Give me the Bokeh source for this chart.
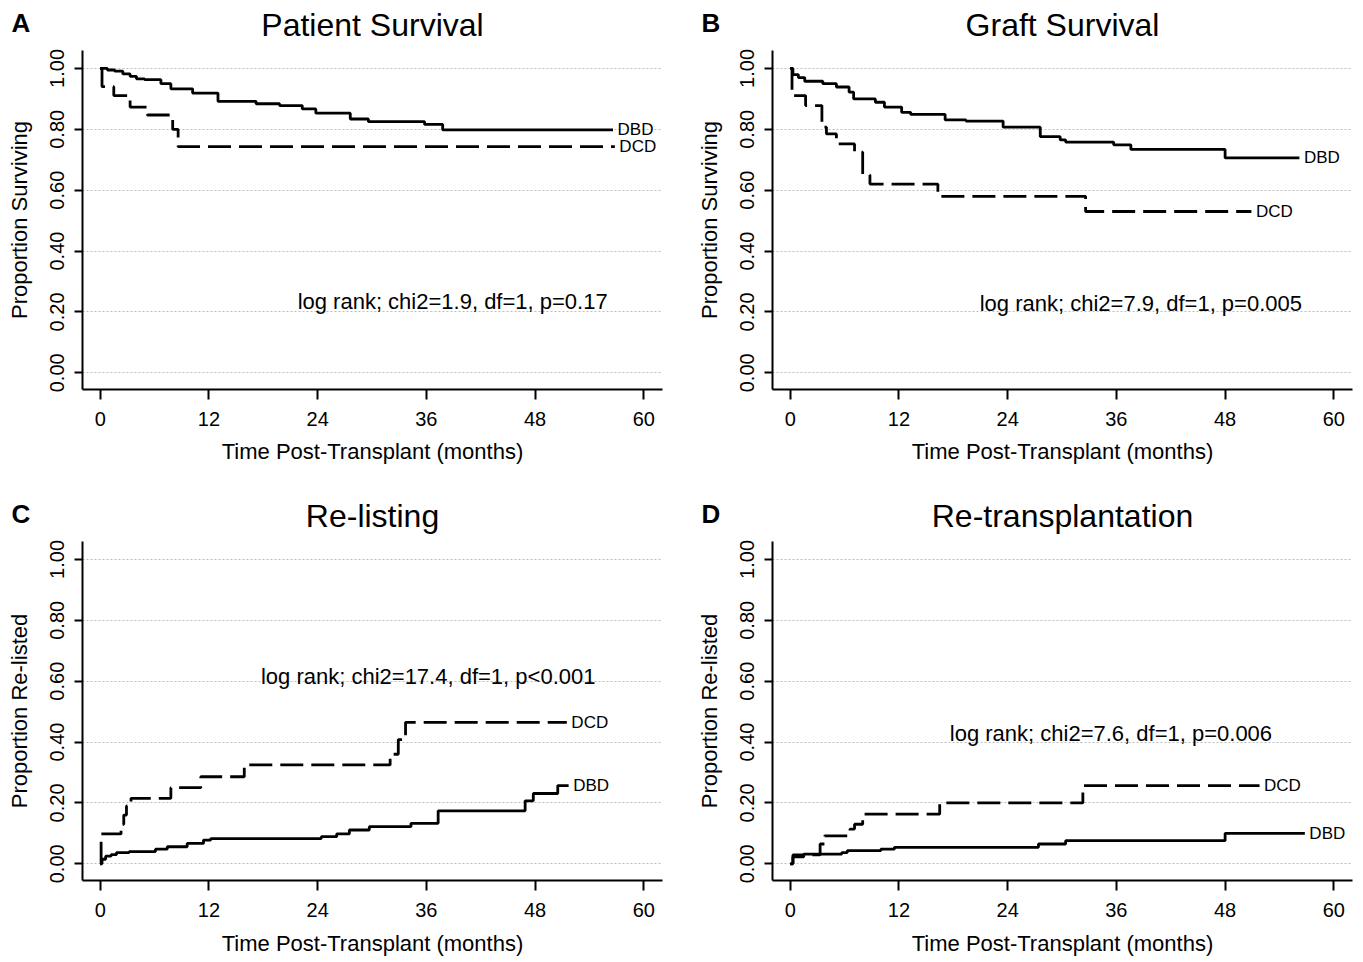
from bokeh.plotting import figure
from bokeh.layouts import gridplot
from bokeh.models import Label, FixedTicker, Range1d
from bokeh.embed import file_html
from bokeh.resources import INLINE

# ---------------- data ----------------
month_ticks = [0, 12, 24, 36, 48, 60]
prop_ticks = [0.0, 0.2, 0.4, 0.6, 0.8, 1.0]
prop_tick_labels = ["0.00", "0.20", "0.40", "0.60", "0.80", "1.00"]

panel_letters = ["A", "B", "C", "D"]
panel_titles = ["Patient Survival", "Graft Survival", "Re-listing", "Re-transplantation"]
y_titles = ["Proportion Surviving", "Proportion Surviving", "Proportion Re-listed", "Proportion Re-listed"]
x_title = "Time Post-Transplant (months)"
group_names = ["DBD", "DCD"]

stats_text = ["log rank; chi2=1.9, df=1, p=0.17",
              "log rank; chi2=7.9, df=1, p=0.005",
              "log rank; chi2=17.4, df=1, p<0.001",
              "log rank; chi2=7.6, df=1, p=0.006"]
stats_x = [38.9, 38.7, 36.2, 35.4]
stats_y = [0.234, 0.228, 0.616, 0.428]

# A: patient survival
a_dbd_t = [0, 0.8, 1.6, 2.5, 3.3, 4.0, 4.9, 6.7, 7.8, 10.2, 13.0, 17.2, 19.8, 22.3, 23.8, 27.6, 29.6, 35.8, 37.8]
a_dbd_v = [1.0, 0.995, 0.991, 0.982, 0.974, 0.966, 0.963, 0.950, 0.933, 0.919, 0.892, 0.884, 0.878, 0.867, 0.853, 0.834, 0.825, 0.816, 0.798]
a_dbd_end = 56.6
a_dcd_t = [0, 0.2, 1.5, 3.3, 5.2, 8.0, 8.6]
a_dcd_v = [1.0, 0.940, 0.911, 0.873, 0.847, 0.800, 0.743]
a_dcd_end = 56.8

# B: graft survival
b_dbd_t = [0, 0.3, 0.9, 1.6, 3.6, 5.1, 6.5, 7.0, 9.4, 10.4, 12.3, 13.3, 17.1, 19.4, 23.5, 27.6, 29.8, 30.4, 35.7, 37.6, 48.0]
b_dbd_v = [1.0, 0.980, 0.970, 0.958, 0.950, 0.939, 0.922, 0.900, 0.889, 0.873, 0.856, 0.849, 0.831, 0.827, 0.807, 0.776, 0.765, 0.758, 0.749, 0.734, 0.706]
b_dbd_end = 56.2
b_dcd_t = [0, 0.2, 1.7, 3.5, 4.0, 5.1, 7.1, 8.0, 8.8, 16.3, 32.6]
b_dcd_v = [1.0, 0.911, 0.878, 0.807, 0.785, 0.752, 0.725, 0.650, 0.620, 0.580, 0.530]
b_dcd_end = 50.9

# C: re-listing
c_dbd_t = [0, 0.2, 0.6, 1.2, 1.8, 3.2, 6.1, 7.4, 9.6, 11.4, 12.2, 24.4, 26.1, 27.5, 29.7, 34.3, 37.3, 46.9, 47.8, 50.5]
c_dbd_v = [0.0, 0.015, 0.025, 0.030, 0.037, 0.040, 0.048, 0.056, 0.067, 0.078, 0.083, 0.089, 0.098, 0.111, 0.122, 0.133, 0.174, 0.207, 0.231, 0.257]
c_dbd_end = 51.7
c_dcd_t = [0, 0.1, 2.3, 2.6, 2.9, 3.4, 7.8, 11.1, 15.9, 32.0, 32.9, 33.7]
c_dcd_v = [0.0, 0.098, 0.130, 0.160, 0.190, 0.215, 0.250, 0.286, 0.325, 0.360, 0.408, 0.465]
c_dcd_end = 51.5

# D: re-transplantation
d_dbd_t = [0, 0.3, 1.5, 5.7, 6.3, 10.0, 11.5, 27.4, 30.4, 48.0]
d_dbd_v = [0.0, 0.023, 0.032, 0.037, 0.043, 0.048, 0.054, 0.065, 0.076, 0.100]
d_dbd_end = 56.8
d_dcd_t = [0, 0.3, 3.3, 3.8, 6.6, 7.1, 8.0, 16.5, 32.3]
d_dcd_v = [0.0, 0.029, 0.065, 0.092, 0.114, 0.130, 0.163, 0.200, 0.257]
d_dcd_end = 51.8

series = [
    ((a_dbd_t, a_dbd_v, a_dbd_end), (a_dcd_t, a_dcd_v, a_dcd_end)),
    ((b_dbd_t, b_dbd_v, b_dbd_end), (b_dcd_t, b_dcd_v, b_dcd_end)),
    ((c_dbd_t, c_dbd_v, c_dbd_end), (c_dcd_t, c_dcd_v, c_dcd_end)),
    ((d_dbd_t, d_dbd_v, d_dbd_end), (d_dcd_t, d_dcd_v, d_dcd_end)),
]

# ---------------- layout / style ----------------
FONT = "Liberation Sans"
# plotting region (axes box) in data units and its pixel placement inside each figure
X0, X1 = -1.954, 62.06
Y0, Y1 = -0.0549, 1.059
PL, PT, PW, PH = 82, 50, 580, 339
KX = (X1 - X0) / PW
KY = (Y1 - Y0) / PH


def to_data(px, py):
    return X0 + (px - PL) * KX, Y1 - (py - PT) * KY


def step_xy(t, v, end):
    xs, ys = [t[0]], [v[0]]
    for i in range(1, len(t)):
        xs += [t[i], t[i]]
        ys += [v[i - 1], v[i]]
    xs.append(end)
    ys.append(v[-1])
    return xs, ys


def make_panel(i, W, H):
    xs0, ys1 = to_data(0, 0)
    xs1, ys0 = to_data(W, H)
    p = figure(width=W, height=H, frame_width=W, frame_height=H, output_backend="svg",
               toolbar_location=None, x_range=Range1d(xs0, xs1), y_range=Range1d(ys0, ys1),
               min_border=0, min_border_left=0, min_border_right=0, min_border_top=0,
               min_border_bottom=0, background_fill_color="white", border_fill_color="white",
               outline_line_color=None)

    p.xgrid.visible = False
    g = p.ygrid[0]
    g.ticker = FixedTicker(ticks=prop_ticks)
    if "cross_bounds" in g.properties():
        g.cross_bounds = (X0, X1)
        g.grid_line_color = "#bdbdbd"
        g.grid_line_dash = "2 2"
        g.grid_line_width = 1
    else:
        g.visible = False
        p.segment(x0=[X0] * len(prop_ticks), x1=[X1] * len(prop_ticks), y0=prop_ticks, y1=prop_ticks,
                  line_color="#bdbdbd", line_dash="2 2", line_width=1)

    xa = p.xaxis[0]
    ya = p.yaxis[0]
    xa.fixed_location = Y0
    ya.fixed_location = X0
    xa.bounds = (X0, X1)
    ya.bounds = (Y0, Y1)
    xa.ticker = FixedTicker(ticks=month_ticks)
    ya.ticker = FixedTicker(ticks=prop_ticks)
    ya.major_label_overrides = {t: s for t, s in zip(prop_ticks, prop_tick_labels)}
    ya.major_label_orientation = "vertical"
    for ax in (xa, ya):
        ax.axis_line_width = 2
        ax.axis_line_color = "black"
        ax.major_tick_line_width = 2
        ax.major_tick_line_color = "black"
        ax.major_tick_in = 0
        ax.minor_tick_line_color = None
        ax.major_label_text_font = FONT
        ax.major_label_text_font_size = "20px"
        ax.major_label_text_color = "black"
        ax.axis_label_text_font = FONT
        ax.axis_label_text_font_size = "22px"
        ax.axis_label_text_font_style = "normal"
        ax.axis_label_text_color = "black"
    xa.major_tick_out = 10
    ya.major_tick_out = 8
    xa.major_label_standoff = 12
    ya.major_label_standoff = 10
    xa.axis_label = x_title
    ya.axis_label = y_titles[i]
    xa.axis_label_standoff = 11 if i >= 2 else 10
    ya.axis_label_standoff = 16

    (dbd, dcd) = series[i]
    xs, ys = step_xy(*dbd)
    p.line(xs, ys, line_color="black", line_width=2.8)
    xs, ys = step_xy(*dcd)
    p.line(xs, ys, line_color="black", line_width=2.8, line_dash="23 8")

    for (t, v, end), name in zip((dbd, dcd), group_names):
        p.add_layout(Label(x=end + 0.5, y=v[-1], text=name, text_font=FONT,
                           text_font_size="17px", text_align="left", text_baseline="middle",
                           text_color="black"))

    p.add_layout(Label(x=stats_x[i], y=stats_y[i], text=stats_text[i], text_font=FONT,
                       text_font_size="22px", text_align="center", text_baseline="middle",
                       text_color="black"))

    tx, ty = to_data(PL + PW / 2, 24)
    p.add_layout(Label(x=tx, y=ty, text=panel_titles[i], text_font=FONT, text_font_size="32px",
                       text_align="center", text_baseline="alphabetic", text_color="black"))
    lx, ly = to_data(11, 22)
    p.add_layout(Label(x=lx, y=ly, text=panel_letters[i], text_font=FONT, text_font_size="26px",
                       text_font_style="bold", text_align="left", text_baseline="alphabetic",
                       text_color="black"))
    return p


pA = make_panel(0, 690, 491)
pB = make_panel(1, 672, 491)
pC = make_panel(2, 690, 470)
pD = make_panel(3, 672, 470)

grid = gridplot([[pA, pB], [pC, pD]], toolbar_location=None)

open("out.html", "w").write(file_html(grid, INLINE))
